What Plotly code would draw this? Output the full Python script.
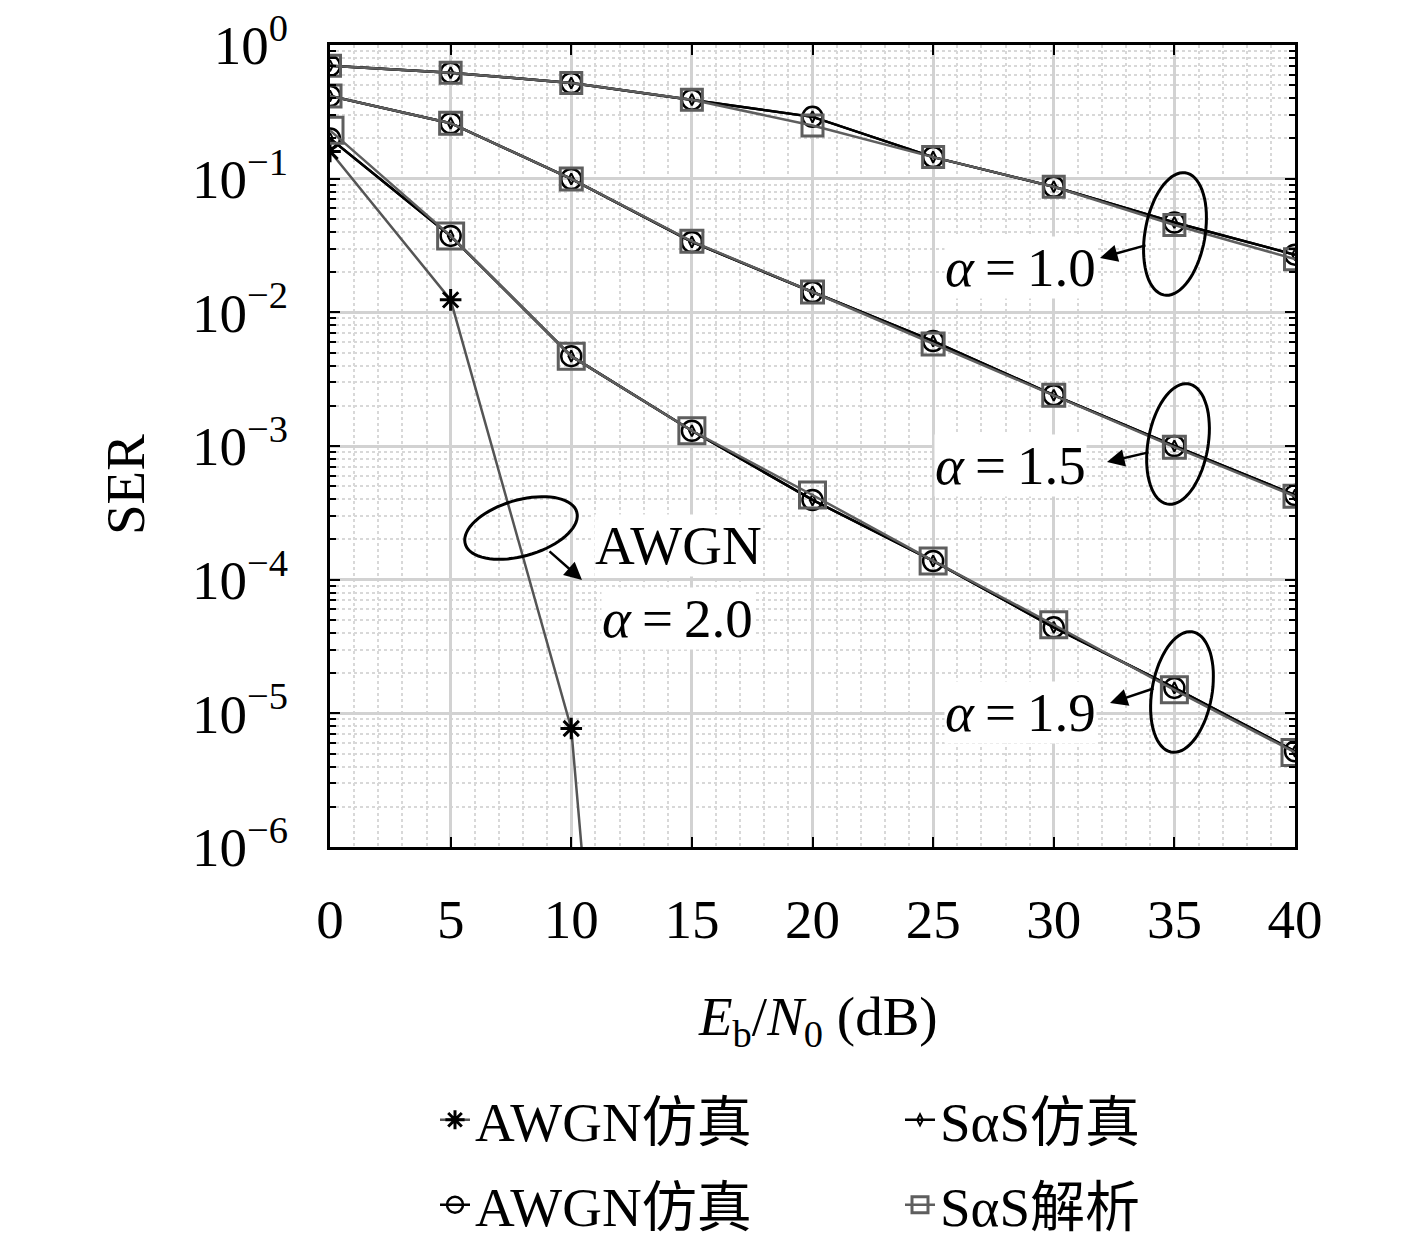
import numpy as np
import plotly.graph_objects as go

# --- data ---
snr = [0, 5, 10, 15, 20, 25, 30, 35, 40]

awgn_snr = [0, 5, 10, 10.5]
awgn_ser = [0.16, 0.0124, 7.7e-6, 7.0e-7]

a10_sim = [0.70, 0.62, 0.52, 0.39, 0.29, 0.145, 0.087, 0.047, 0.027]
a10_ana = [0.70, 0.62, 0.52, 0.39, 0.25, 0.145, 0.087, 0.045, 0.025]
a15_sim = [0.415, 0.26, 0.0995, 0.0336, 0.0142, 0.0061, 0.0024, 0.00100, 0.00043]
a15_ana = [0.415, 0.26, 0.0995, 0.0340, 0.0142, 0.0058, 0.0024, 0.00098, 0.00042]
a19_sim = [0.20, 0.0373, 0.0047, 0.0013, 0.000395, 0.000138, 4.4e-5, 1.55e-5, 5.2e-6]
a19_ana = [0.23, 0.0373, 0.0047, 0.0013, 0.00043, 0.000138, 4.6e-5, 1.5e-5, 5.1e-6]

y_ticks = [1e-6, 1e-5, 1e-4, 1e-3, 1e-2, 1e-1, 1e0]
y_ticktext = ["10<sup>−6</sup>", "10<sup>−5</sup>", "10<sup>−4</sup>", "10<sup>−3</sup>",
              "10<sup>−2</sup>", "10<sup>−1</sup>", "10<sup>0</sup>"]
x_ticks = [0, 5, 10, 15, 20, 25, 30, 35, 40]

# --- styles ---
FONT = "Liberation Serif, Noto Sans CJK SC, serif"
fs = 55
W, H = 1417, 1252
L, R, T, B = 330, 1295, 45, 847  # plot area in pixels
grid_major = "#d2d2d2"
grid_minor = "#d8d8d8"
ana_color = "#5e5e5e"

fig = go.Figure()

fig.add_trace(go.Scatter(
    x=awgn_snr, y=awgn_ser, mode="lines+markers", name="AWGN仿真", legend="legend",
    line=dict(color="#555555", width=2.5),
    marker=dict(symbol="asterisk-open", size=18, color="black", line=dict(color="black", width=3)),
))

series = [(a10_sim, a10_ana, 21), (a15_sim, a15_ana, 22), (a19_sim, a19_ana, 26)]
for i, (sim, ana, sq) in enumerate(series):
    fig.add_trace(go.Scatter(
        x=snr, y=sim, mode="lines+markers", name="SαS仿真", showlegend=(i == 0), legend="legend",
        line=dict(color="black", width=2.5),
        marker=dict(symbol="diamond-tall-open", size=8, color="black", line=dict(color="black", width=2)),
    ))
    fig.add_trace(go.Scatter(
        x=snr, y=sim, mode="lines+markers", name="AWGN仿真", showlegend=(i == 0), legend="legend2",
        line=dict(color="black", width=2.5),
        marker=dict(symbol="circle-open", size=20, color="black", line=dict(color="black", width=2.5)),
    ))
    fig.add_trace(go.Scatter(
        x=snr, y=ana, mode="lines+markers", name="SαS解析", showlegend=(i == 0), legend="legend2",
        line=dict(color=ana_color, width=2.5),
        marker=dict(symbol="square-open", size=sq, color=ana_color, line=dict(color=ana_color, width=3)),
    ))


def px2paper(px, py):
    return (px - L) / (R - L), (B - py) / (B - T)


def ellipse_path(cx, cy, a, b, deg):
    phi = np.radians(deg)
    t = np.linspace(0, 2 * np.pi, 72)
    xs = cx + a * np.cos(t) * np.cos(phi) - b * np.sin(t) * np.sin(phi)
    ys = cy + a * np.cos(t) * np.sin(phi) + b * np.sin(t) * np.cos(phi)
    pts = [px2paper(x, y) for x, y in zip(xs, ys)]
    return "M " + " L ".join(f"{x:.4f},{y:.4f}" for x, y in pts) + " Z"


ellipses = [(1175, 234, 30, 62, 10), (1178, 444, 30, 61, 10), (1182, 692, 30, 61, 10), (521, 528, 58, 28, -16)]
for cx, cy, a, b, deg in ellipses:
    fig.add_shape(type="path", path=ellipse_path(cx, cy, a, b, deg), xref="paper", yref="paper",
                  line=dict(color="black", width=3))

# arrows: head (px), tail (px)
arrows = [((1100, 258), (1147, 245)), ((1107, 462), (1150, 452)),
          ((1110, 703), (1155, 688)), ((582, 580), (548, 550))]
for (hx, hy), (tx, ty) in arrows:
    x, y = px2paper(hx, hy)
    fig.add_annotation(x=x, y=y, xref="paper", yref="paper", text="", showarrow=True,
                       ax=tx - hx, ay=ty - hy, arrowhead=2, arrowsize=1.4, arrowwidth=2.5,
                       arrowcolor="black", standoff=0)

eq = "\u2009=\u2009"
labels = [(f"<i>α</i>{eq}1.0", 1020, 268), (f"<i>α</i>{eq}1.5", 1010, 465), (f"<i>α</i>{eq}1.9", 1020, 712),
          ("AWGN", 678, 545), (f"<i>α</i>{eq}2.0", 677, 618)]
for txt, px, py in labels:
    x, y = px2paper(px, py)
    fig.add_annotation(x=x, y=y, xref="paper", yref="paper", text=txt, showarrow=False,
                       font=dict(family=FONT, size=fs, color="black"), bgcolor="white",
                       xanchor="center", yanchor="middle", borderpad=0)

# axis titles
x, y = px2paper(125, 485)
fig.add_annotation(x=x, y=y, xref="paper", yref="paper", text="SER", textangle=-90, showarrow=False,
                   xanchor="center", yanchor="middle",
                   font=dict(family=FONT, size=fs, color="black"))
x, y = px2paper(818, 1020)
fig.add_annotation(x=x, y=y, xref="paper", yref="paper",
                   text="<i>E</i><sub>b</sub>/<i>N</i><sub>0</sub> (dB)", showarrow=False,
                   xanchor="center", yanchor="middle",
                   font=dict(family=FONT, size=fs, color="black"))

fig.update_xaxes(
    range=[0, 40], tickvals=x_ticks, ticks="inside", ticklen=10, tickwidth=2, tickcolor="black",
    showline=True, linecolor="black", linewidth=3, mirror="allticks",
    showgrid=True, gridcolor=grid_major, gridwidth=2.5, zeroline=False,
    minor=dict(dtick=1, showgrid=True, gridcolor=grid_minor, griddash="dot", gridwidth=1.5, ticks=""),
    tickfont=dict(family=FONT, size=fs, color="black"), ticklabelstandoff=22,
)
fig.update_yaxes(
    type="log", range=[-6, 0], tickvals=y_ticks, ticktext=y_ticktext,
    ticks="inside", ticklen=10, tickwidth=2, tickcolor="black",
    showline=True, linecolor="black", linewidth=3, mirror="allticks",
    showgrid=True, gridcolor=grid_major, gridwidth=2.5, zeroline=False,
    minor=dict(dtick="D1", showgrid=True, gridcolor=grid_minor, griddash="dot", gridwidth=1.5,
               ticks="inside", ticklen=6, tickwidth=2, tickcolor="black"),
    tickfont=dict(family=FONT, size=fs, color="black"), ticklabelstandoff=28,
)

leg_common = dict(orientation="h", xanchor="left", yanchor="middle",
                  entrywidth=420, entrywidthmode="pixels", traceorder="normal",
                  font=dict(family=FONT, size=fs, color="black"), bgcolor="rgba(0,0,0,0)")
fig.update_layout(
    width=W, height=H,
    margin=dict(l=L, r=W - R, t=T, b=H - B, autoexpand=False),
    paper_bgcolor="white", plot_bgcolor="white",
    legend=dict(x=px2paper(435, 0)[0], y=px2paper(0, 1120)[1], **leg_common),
    legend2=dict(x=px2paper(435, 0)[0], y=px2paper(0, 1205)[1], **leg_common),
)

fig.write_html("out.html", config={"displayModeBar": False},
               post_script="document.body.style.margin='0px';")
